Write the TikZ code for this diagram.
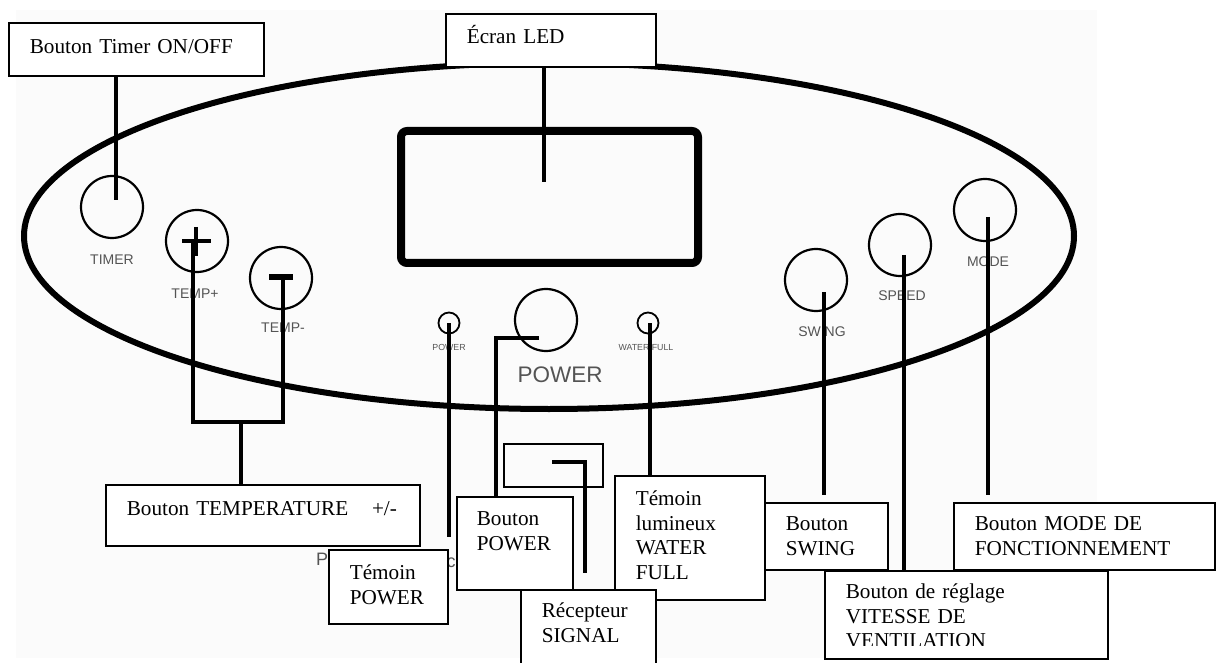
\documentclass[tikz,border=0pt]{standalone}
\usepackage{fontspec}
\setmainfont{Liberation Serif}
\setsansfont{Liberation Sans}
\usepackage{tikz}
\usetikzlibrary{positioning, calc}

\definecolor{panelgray}{gray}{0.33}
\definecolor{photobg}{gray}{0.985}

\begin{document}
\begin{tikzpicture}[
  x=1pt, y=-1pt,
  every node/.style={font=\sffamily},
  callout/.style={rectangle, draw, fill=white, line width=1.6pt, anchor=north west, align=left, inner xsep=21pt, inner ysep=0pt, font=\rmfamily\fontsize{21.2}{24.5}\selectfont},
  knob/.style={circle, draw, line width=2.2pt, minimum size=62pt, inner sep=0pt},
  led/.style={circle, draw, line width=1.8pt, minimum size=21pt, inner sep=0pt},
  screen/.style={rectangle, draw, line width=8pt, rounded corners=6pt, minimum width=297pt, minimum height=132pt, inner sep=0pt},
  sigwin/.style={rectangle, draw, line width=2.2pt, minimum width=99pt, minimum height=43pt, inner sep=0pt},
  tag/.style={text=panelgray, font=\sffamily\fontsize{14}{14}\selectfont, inner sep=0pt},
  tiny/.style={text=panelgray, font=\sffamily\fontsize{8.8}{8.8}\selectfont, inner sep=0pt},
  lead/.style={line width=4pt},
  sign/.style={line width=4.5pt}
]
\useasboundingbox (0,0) rectangle (1216,663);
\clip (0,0) rectangle (1216,663);

\fill[photobg] (16,10) rectangle (1097,658);
\draw[line width=6pt] (549,236) ellipse [x radius=525, y radius=173];

\node[screen] (scr) at (549.5,197) {};
\node[sigwin] (sig) at (553.5,465.5) {};

\node[knob] (timer) at (112,207) {};
\node[knob] (tplus) at (197,241) {};
\node[knob] (tminus) at (281,278) {};
\node[knob] (power) at (546,320) {};
\node[knob] (swing) at (816,280) {};
\node[knob] (speed) at (900,245) {};
\node[knob] (mode) at (985,210) {};
\node[led] (pled) at (449,323) {};
\node[led] (wled) at (648,323) {};

\draw[sign] ($(tplus.center)+(-15,0)$) -- ($(tplus.center)+(14,0)$)
  ($(tplus.center)+(-1,-14)$) -- ($(tplus.center)+(-1,15)$);
\draw[sign, line width=5.5pt] ($(tminus.center)+(-12,-1)$) -- ($(tminus.center)+(12,-1)$);

\node[tag, below=16pt of timer] (timertag) {TIMER};
\node[tag, below=16pt of tplus, xshift=-2pt] (tplustag) {TEMP+};
\node[tag, below=13pt of tminus, xshift=2pt] (tminustag) {TEMP-};
\node[tag, below=14pt of swing, xshift=6pt] (swingtag) {SWING};
\node[tag, below=13pt of speed, xshift=2pt] (speedtag) {SPEED};
\node[tag, below=14pt of mode, xshift=3pt] (modetag) {MODE};
\node[tiny, below=10pt of pled] (pledtag) {POWER};
\node[tiny, below=10pt of wled, xshift=-2pt] (wledtag) {WATER FULL};
\node[tag, font=\sffamily\fontsize{22.5}{22.5}\selectfont, below=14pt of power, xshift=14pt] (powertag) {POWER};
\node[tag, font=\sffamily\fontsize{18}{18}\selectfont] (pfrag) at (322,559) {P};
\node[tag, font=\sffamily\fontsize{18}{18}\selectfont] (cfrag) at (451,563) {c};

\node[callout, text width=213pt, text height=31pt, text depth=22pt] (timerbox) at (8,22) {Bouton Timer ON/OFF};
\node[callout, text width=168pt, text height=30pt, text depth=23pt] (ledbox) at (445,13) {Écran LED};
\node[callout, text width=272pt, text height=31pt, text depth=30pt] (tempbox) at (105,484) {Bouton TEMPERATURE\hspace{16.7pt} +/-};
\node[callout, text width=77pt, text height=30pt, text depth=44pt] (tpbox) at (328,549) {Témoin\\POWER};
\node[callout, inner xsep=20pt, text width=76pt, text height=29pt, text depth=64pt] (bpbox) at (456,496) {Bouton\\POWER};
\node[callout, text width=108pt, text height=30pt, text depth=94pt] (wfbox) at (614,475) {Témoin\\lumineux\\WATER\\FULL};
\node[callout, text width=93pt, text height=28pt, text depth=83pt] (recbox) at (520,589) {Récepteur\\SIGNAL};
\node[callout, text width=81pt, text height=28pt, text depth=39pt] (swbox) at (764,502) {Bouton\\SWING};
\node[callout, text width=219pt, text height=28pt, text depth=39pt] (modebox) at (953,502) {Bouton MODE DE\\FONCTIONNEMENT};
\node[callout, text width=241pt, text height=28pt, text depth=60pt] (velbox) at (824,570) {Bouton de réglage\\VITESSE DE\\VENTILATION};
\fill[white] ($(velbox.south west)+(2,-3)$) rectangle ($(velbox.south east)+(-2,-14)$);

\coordinate (tj) at (241,422);
\draw[lead] ($(timer.center |- timerbox.south)+(4,0)$) -- ($(timer.center)+(4,-7)$);
\draw[lead] ($(scr.center |- ledbox.south)+(-5.5,0)$) -- ($(scr.center)+(-5.5,-15)$);
\draw[lead] ($(tplus.center)+(-4,2)$) |- (tj) -| ($(tminus.center)+(2,-1)$);
\draw[lead] (tj) -- (tj |- tempbox.north);
\draw[lead] (pled.center) -- ($(pled.center |- tpbox.north)+(0,-12)$);
\draw[lead] ($(power.center)+(-7,18)$) -| ($(bpbox.north west)+(40,0)$);
\draw[lead] ($(sig.center)+(-1.5,-3.5)$) -| ($(recbox.north west)+(65,-16)$);
\draw[lead] ($(wled.center)+(2,0)$) -- ($(wled.center |- wfbox.north)+(2,0)$);
\draw[lead] ($(swing.center)+(8,12)$) -- ($(swing.center |- swbox.north)+(8,-7)$);
\draw[lead] ($(speed.center)+(4,10)$) -- ($(speed.center |- velbox.north)+(4,0)$);
\draw[lead] ($(mode.center)+(3,7)$) -- ($(mode.center |- modebox.north)+(3,-7)$);

\end{tikzpicture}
\end{document}
